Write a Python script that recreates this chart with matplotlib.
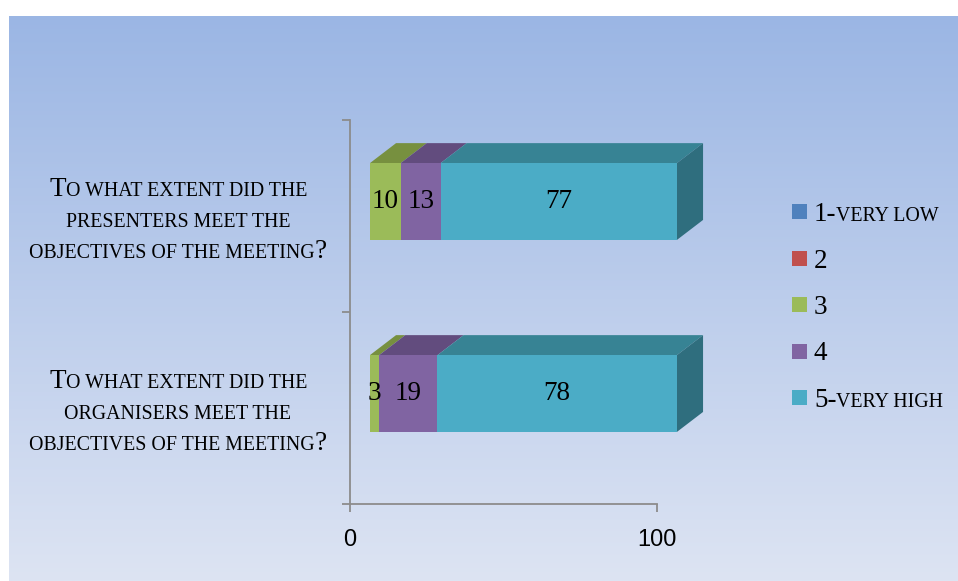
import numpy as np
import matplotlib
matplotlib.use("Agg")
import matplotlib.pyplot as plt
from matplotlib.patches import Polygon, Rectangle
from matplotlib.transforms import IdentityTransform
from matplotlib.colors import LinearSegmentedColormap

# ---------------- data ----------------
cat_lines = [
    ["To what extent did the", "organisers meet the", "objectives of the meeting?"],
    ["To what extent did the", "presenters meet the", "objectives of the meeting?"],
]
series_names = ["1-very low", "2", "3", "4", "5-very high"]
s1 = [0, 0]
s2 = [0, 0]
s3 = [3, 10]
s4 = [19, 13]
s5 = [78, 77]
series_values = [s1, s2, s3, s4, s5]
x_ticks = [0, 100]
x_tick_labels = ["0", "100"]

face_colors = ["#4F81BD", "#C0504D", "#9BBB59", "#8064A2", "#4BACC6"]
top_colors = ["#3B6193", "#943B39", "#77903F", "#624C7E", "#378394"]
side_colors = ["#2F4E76", "#772F2E", "#5F7332", "#4E3D65", "#2F6E7E"]

W, H = 958, 581
SERIF = "Liberation Serif"
BIG, SMALL = 19.5, 14.3

fig = plt.figure(figsize=(W / 100, H / 100), dpi=100)
fig.patch.set_facecolor("white")

# background gradient panel
bg = fig.add_axes([9 / W, 0, (W - 9) / W, (H - 16) / H], zorder=0)
cmap = LinearSegmentedColormap.from_list("bg", ["#DDE4F3", "#9BB6E4"])
grad = np.linspace(0, 1, 256).reshape(-1, 1)
bg.imshow(grad, aspect="auto", cmap=cmap, origin="lower", extent=[0, 1, 0, 1])
bg.axis("off")

# main axes
ax = fig.add_axes([350 / W, 77 / H, 307 / W, 384 / H], zorder=1)
ax.patch.set_alpha(0)
ax.set_xlim(0, 100)
ax.set_ylim(0, 2)
for s in ["top", "right"]:
    ax.spines[s].set_visible(False)
for s in ["left", "bottom"]:
    ax.spines[s].set_color("#8C8C8C")
    ax.spines[s].set_linewidth(1.3)
ax.set_xticks(x_ticks)
ax.set_xticklabels(x_tick_labels, fontfamily="Liberation Sans", fontsize=17)
ax.set_yticks([0, 1, 2])
ax.set_yticklabels([])
ax.tick_params(axis="both", direction="out", length=6, width=1.3, color="#8C8C8C")
ax.tick_params(axis="x", pad=12)

# 3D bar geometry (data units)
x_off = 6.5
dx = 8.5
dy = 0.104
half_h = 0.2
y_shift = 0.0755

for i in range(len(cat_lines)):
    yc = i + 0.5 + y_shift
    yb, yt = yc - half_h, yc + half_h
    left = x_off
    last_j = None
    segs = []
    for j, vals in enumerate(series_values):
        w = vals[i]
        if w == 0:
            continue
        segs.append((j, left, w))
        left += w
        last_j = j
    for j, l, w in segs:
        ax.add_patch(Polygon([(l, yt), (l + w, yt), (l + w + dx, yt + dy), (l + dx, yt + dy)],
                             closed=True, facecolor=top_colors[j], edgecolor="none",
                             clip_on=False, zorder=2))
    for j, l, w in segs:
        ax.add_patch(Rectangle((l, yb), w, yt - yb, facecolor=face_colors[j],
                               edgecolor="none", clip_on=False, zorder=3))
        ax.text(l + w / 2, yc, str(w), ha="center", va="center", fontsize=BIG,
                family=SERIF, color="black", zorder=5, clip_on=False)
    ax.add_patch(Polygon([(left, yb), (left, yt), (left + dx, yt + dy), (left + dx, yb + dy)],
                         closed=True, facecolor=side_colors[last_j], edgecolor="none",
                         clip_on=False, zorder=2))

renderer = fig.canvas.get_renderer()


def runs(s):
    out = []
    for ch in s:
        if ch.islower():
            kind, c = "s", ch.upper()
        elif ch == " ":
            kind, c = (out[-1][0] if out else "s"), ch
        else:
            kind, c = "b", ch
        if out and out[-1][0] == kind:
            out[-1][1] += c
        else:
            out.append([kind, c])
    return out


def draw_sc(text, x, y, ha="left"):
    pieces = []
    for kind, t in runs(text):
        p = fig.text(0, 0, t, fontsize=BIG if kind == "b" else SMALL, family=SERIF,
                     transform=IdentityTransform(), va="baseline", ha="left", color="black")
        pieces.append(p)
    widths = [p.get_window_extent(renderer).width for p in pieces]
    total = sum(widths)
    x0 = x - total / 2 if ha == "center" else x
    for p, w in zip(pieces, widths):
        p.set_position((x0, y))
        x0 += w


# category labels
line_offsets = [-20.3, 11.0, 42.0]  # pixels below category centre (top-origin)
for i, lines in enumerate(cat_lines):
    yc_disp = ax.transData.transform((0, i + 0.5))[1]
    for off, line in zip(line_offsets, lines):
        draw_sc(line, 178, yc_disp - off, ha="center")

# legend
leg_baselines = [221, 267.5, 314, 360.5, 407]
for name, col, yb in zip(series_names, face_colors, leg_baselines):
    ydisp = H - yb
    fig.add_artist(Rectangle((792, ydisp + 1.7), 15, 15, facecolor=col, edgecolor="none",
                             transform=IdentityTransform()))
    draw_sc(name, 814, ydisp)

fig.savefig("out.png", dpi=100, facecolor=fig.get_facecolor())
